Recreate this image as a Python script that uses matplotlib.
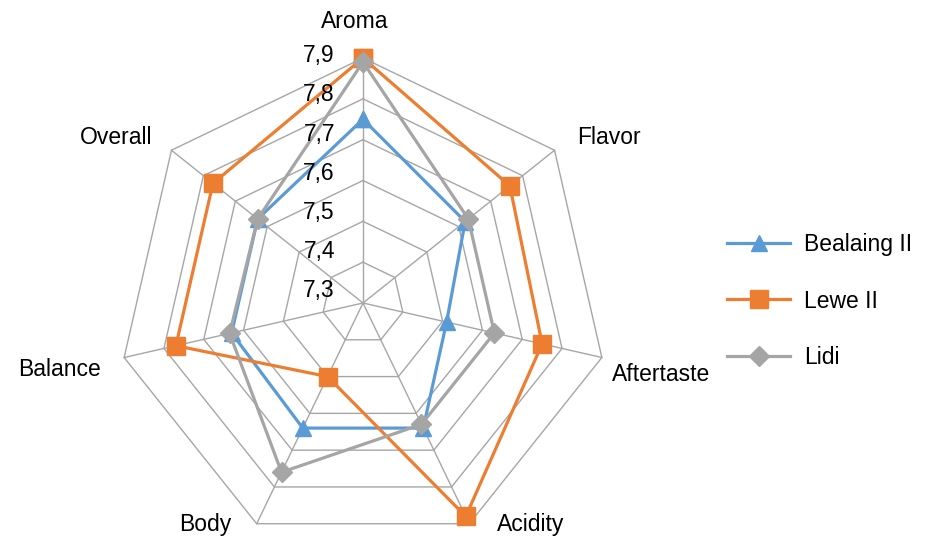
import numpy as np
import matplotlib
matplotlib.use("Agg")
import matplotlib.pyplot as plt
from matplotlib.transforms import offset_copy

categories = ["Aroma", "Flavor", "Aftertaste", "Acidity", "Body", "Balance", "Overall"]
bealaing = [7.75, 7.62, 7.51, 7.64, 7.64, 7.63, 7.63]
lewe = [7.90, 7.76, 7.75, 7.88, 7.50, 7.77, 7.77]
lidi = [7.89, 7.63, 7.63, 7.63, 7.76, 7.635, 7.63]
series_names = ["Bealaing II", "Lewe II", "Lidi"]
tick_values = [7.3, 7.4, 7.5, 7.6, 7.7, 7.8, 7.9]
tick_labels = ["7,3", "7,4", "7,5", "7,6", "7,7", "7,8", "7,9"]

plt.rcParams['font.family'] = ['Liberation Sans', 'DejaVu Sans']
FS = 16.5

W, H = 927, 541
fig = plt.figure(figsize=(W / 100, H / 100), dpi=100)
cx, cy, R = 363, 303, 245
ax = fig.add_axes([(cx - R) / W, (H - cy - R) / H, 2 * R / W, 2 * R / H], projection='polar')
ax.set_theta_zero_location('N')
ax.set_theta_direction(-1)
ax.set_ylim(tick_values[0], tick_values[-1])
ax.grid(False)
ax.spines['polar'].set_visible(False)
ax.set_xticks([])
ax.set_yticks([])
ax.patch.set_alpha(0)

n = len(categories)
theta = np.arange(n) * 2 * np.pi / n
theta_c = np.append(theta, theta[0])

gc = '#a6a6a6'
for v in tick_values[1:]:
    ax.plot(theta_c, [v] * (n + 1), color=gc, lw=1.0, zorder=1, clip_on=False)
for t in theta:
    ax.plot([t, t], [tick_values[0], tick_values[-1]], color=gc, lw=1.0, zorder=1, clip_on=False)

colors = ['#5b9bd5', '#ed7d31', '#a5a5a5']
markers = ['^', 's', 'D']
msizes = [12, 13, 10]
handles = []
for vals, name, c, m, ms in zip([bealaing, lewe, lidi], series_names, colors, markers, msizes):
    vv = np.append(vals, vals[0])
    h, = ax.plot(theta_c, vv, color=c, lw=2.3, marker=m, markersize=ms,
                 markeredgecolor=c, markerfacecolor=c, label=name, zorder=3, clip_on=False)
    handles.append(h)

# radial tick labels
for i, (v, lab) in enumerate(zip(tick_values, tick_labels)):
    tr = offset_copy(ax.transData, fig=fig, x=-28, y=12 - 1.6 * i, units='dots')
    ax.text(0, v, lab, transform=tr, ha='right', va='center', fontsize=FS, color='black')

# category labels with pixel offsets (dx, dy, ha, va)
offs = [(-8, 37, 'center', 'center'),
        (23, 13, 'left', 'center'),
        (10, -17, 'left', 'center'),
        (28, -1, 'left', 'center'),
        (-25, -1, 'right', 'center'),
        (-23, -12, 'right', 'center'),
        (-19, 13, 'right', 'center')]
for t, lab, (dx, dy, ha, va) in zip(theta, categories, offs):
    tr = offset_copy(ax.transData, fig=fig, x=dx, y=dy, units='dots')
    ax.text(t, tick_values[-1], lab, transform=tr, ha=ha, va=va, fontsize=FS, color='black')

leg = fig.legend(handles=handles, loc='center left', bbox_to_anchor=(727 / W, 1 - 301 / H),
                 frameon=False, fontsize=FS, handlelength=2.75, handletextpad=0.6,
                 labelspacing=1.45, borderaxespad=0, borderpad=0)

fig.savefig('out.png', dpi=100)
